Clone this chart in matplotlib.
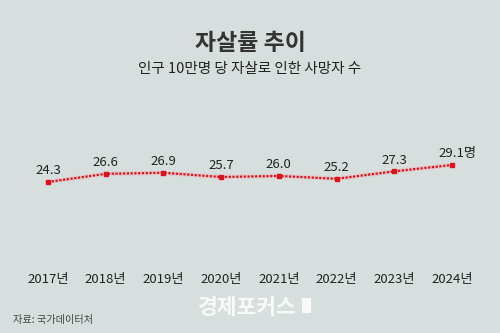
import matplotlib
matplotlib.use('Agg')
import matplotlib.pyplot as plt
import matplotlib.transforms as mtransforms
from matplotlib.patches import Rectangle

plt.rcParams['font.family'] = ['Noto Sans CJK KR', 'DejaVu Sans']

# data
years = [2017, 2018, 2019, 2020, 2021, 2022, 2023, 2024]
year_labels = ['2017년', '2018년', '2019년', '2020년', '2021년', '2022년', '2023년', '2024년']
rates = [24.3, 26.6, 26.9, 25.7, 26.0, 25.2, 27.3, 29.1]

bg = '#d7dfde'
red = '#e0101c'

dpi = 100
fig = plt.figure(figsize=(500 / dpi, 333 / dpi), dpi=dpi, facecolor=bg)
ax = fig.add_axes([0, 0, 1, 1])
ax.set_facecolor(bg)
ax.set_xlim(2016.168, 2024.832)
ax.set_ylim(-18.36, 75.7)
ax.axis('off')

# soft glow under the dotted line
ax.plot(years, rates, color='#f0b4b6', lw=3.2, alpha=0.5, solid_capstyle='round')
ax.plot(years, rates, color=red, lw=1.6, linestyle=(0, (1, 0.7)))
ax.plot(years, rates, 's', color=red, ms=3.0, mec=red)

for i, (x, y) in enumerate(zip(years, rates)):
    txt = f'{y:.1f}'
    dx = 0
    if i == len(years) - 1:
        txt += '명'
        dx = 4
    ax.annotate(txt, (x, y), xytext=(dx, 8), textcoords='offset points',
                ha='center', va='center', fontsize=9.5, color='#222222')

# year labels under the chart
trans = mtransforms.blended_transform_factory(ax.transData, fig.transFigure)
for x, lab in zip(years, year_labels):
    ax.text(x, 1 - 279 / 333, lab, transform=trans, ha='center', va='center',
            fontsize=9.5, color='#222222')

fig.text(0.5, 1 - 43 / 333, '자살률 추이', ha='center', va='center',
         fontsize=16.5, fontweight='bold', color='#333333')
fig.text(0.5, 1 - 69 / 333, '인구 10만명 당 자살로 인한 사망자 수', ha='center', va='center',
         fontsize=10.5, color='#222222')
fig.text(13 / 500, 1 - 320 / 333, '자료: 국가데이터처', ha='left', va='center',
         fontsize=7.3, color='#444444')

# watermark
fig.text(247 / 500, 1 - 308 / 333, '경제포커스', ha='center', va='center',
         fontsize=15.5, fontweight='bold', color='white', alpha=0.85)
fig.patches.append(Rectangle((302 / 500, 1 - 313 / 333), 9 / 500, 15 / 333,
                             transform=fig.transFigure, facecolor='white',
                             edgecolor='none', alpha=0.85))

fig.savefig('out.png', dpi=dpi, facecolor=bg)
